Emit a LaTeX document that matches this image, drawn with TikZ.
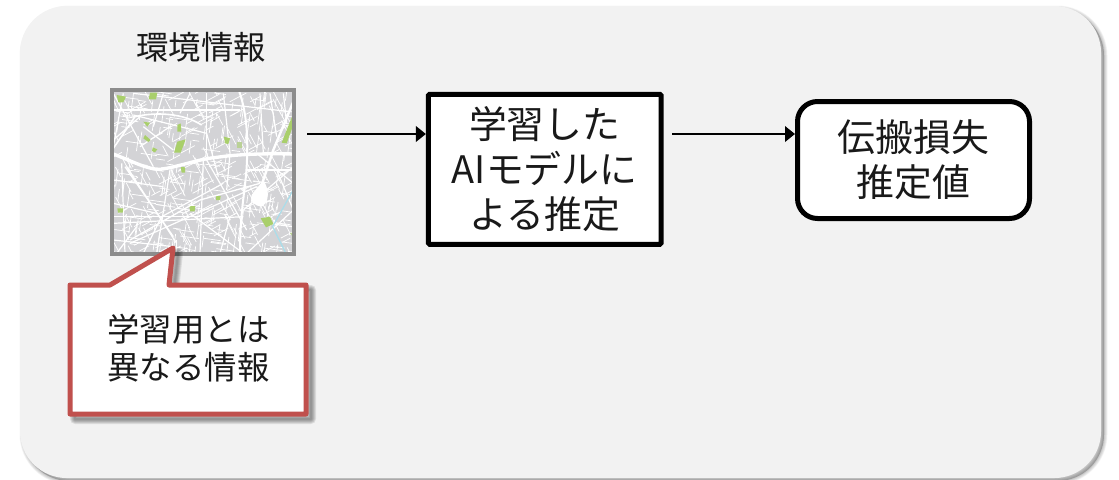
\documentclass[tikz,border=0pt]{standalone}
\usepackage{fontspec}
\setmainfont{Noto Sans CJK JP}
\usetikzlibrary{arrows.meta}
\definecolor{panelbg}{HTML}{F2F2F2}
\definecolor{calloutred}{HTML}{C0504D}
\definecolor{mapgray}{HTML}{D3D3D6}
\definecolor{mapgreen}{HTML}{A9CF6B}
\definecolor{mapborder}{HTML}{8C8C8C}
\definecolor{mapriver}{HTML}{A9DDEA}
\tikzset{
  bigtext/.style={font=\fontsize{28.4}{34}\selectfont,align=center,text=black!90},
  smalltext/.style={font=\fontsize{24.3}{28.5}\selectfont,align=center,text=black!90},
  squarebox/.style={draw=black,fill=white,line width=3.75pt,rounded corners=1pt,inner sep=0pt,bigtext},
  roundbox/.style={draw=black,fill=white,line width=3.75pt,rounded corners=15pt,inner sep=0pt,bigtext},
  flow/.style={draw=black,line width=1.9pt,-{Triangle[length=7.5pt,width=11.5pt]}},
  majorroad/.style={draw=white,line width=2.5pt,line join=round},
  midroad/.style={draw=white,line width=0.9pt},
  minorroad/.style={draw=white,line width=0.55pt},
  park/.style={fill=mapgreen},
  faintpark/.style={fill=mapgreen!60!mapgray},
}
\begin{document}
\begin{tikzpicture}[x=0.75pt,y=-0.75pt]
\useasboundingbox (0,0) rectangle (1119,479);
% panel shadow
\foreach \w in {7,6,5,4,3,2,1}{
  \path[draw=black,fill=black,draw opacity=0.035,fill opacity=0.035,line width=\w*0.75pt,rounded corners=35pt]
    (23,9) rectangle (1104,481);
}
\path[fill=panelbg,rounded corners=35pt] (20,6) rectangle (1101,478);
% map
\node[minimum width=136.5pt,minimum height=123pt,inner sep=0pt,outer sep=0pt] (map) at (203,172) {};
\begin{scope}
\clip (map.north west) rectangle (map.south east);
\fill[mapgray] (map.north west) rectangle (map.south east);
\begin{scope}[shift={(90,70)},x=0.25pt,y=-0.25pt]
\pgfmathsetseed{4711}
\foreach \i in {1,...,540}{
  \pgfmathsetmacro{\rx}{60+rnd*555}
  \pgfmathsetmacro{\ry}{55+rnd*500}
  \pgfmathsetmacro{\rl}{20+rnd*40}
  \pgfmathtruncatemacro{\rk}{int(rnd*4)}
  \pgfmathsetmacro{\ra}{\rk==0 ? 8 : (\rk==1 ? 98 : (\rk==2 ? 62 : -28))}
  \draw[minorroad] (\rx,\ry) -- ++(\ra:\rl);
}
\foreach \a/\b/\c/\d in {
 70/70/190/290, 70/210/150/140, 130/135/350/190, 350/190/385/320, 100/70/70/230,
 220/70/190/170, 300/70/270/130, 350/70/350/250, 400/70/420/250, 510/70/520/250,
 70/120/450/120, 130/70/600/125, 160/170/250/240, 150/230/240/170,
 95/280/105/550, 110/290/260/520, 240/300/200/550, 340/270/330/550, 350/270/470/480,
 420/250/410/360, 70/330/220/350, 70/400/200/430, 70/460/460/440, 70/510/250/530,
 120/520/500/350, 215/440/400/340, 260/510/260/550, 300/430/460/550, 420/440/390/550,
 500/250/610/340, 610/290/460/420, 610/420/470/550, 530/460/610/470, 560/300/610/420,
 80/550/140/470, 160/550/215/440, 470/300/610/300, 540/70/560/200, 580/70/590/160}{
  \draw[midroad] (\a,\b) -- (\c,\d);
}
% parks
\fill[park] (80,75) -- (108,80) -- (100,97) -- (85,97) -- cycle;
\fill[park] (180,68) -- (202,68) -- (198,88) -- (176,88) -- cycle;
\fill[park] (610,130) -- (610,165) -- (590,220) -- (575,218) -- cycle;
\fill[park] (262,215) -- (287,208) -- (272,248) -- (252,248) -- cycle;
\fill[park] (262,165) -- (272,160) -- (274,185) -- (262,185) -- cycle;
\fill[park] (402,200) -- (420,205) -- (415,222) -- (405,220) -- cycle;
\fill[park] (165,195) -- (182,210) -- (175,216) -- (160,205) -- cycle;
\fill[park] (188,232) -- (202,238) -- (195,247) -- (186,243) -- cycle;
\fill[park] (272,290) -- (285,292) -- (285,308) -- (275,308) -- cycle;
\fill[park] (160,155) -- (180,158) -- (172,170) -- cycle;
\fill[park] (298,408) -- (316,408) -- (314,424) -- (300,424) -- cycle;
\fill[park] (378,378) -- (392,378) -- (390,390) -- (378,390) -- cycle;
\fill[park] (82,415) -- (100,415) -- (98,428) -- (84,428) -- cycle;
\fill[park] (512,445) -- (540,440) -- (550,462) -- (528,472) -- cycle;
\fill[faintpark] (440,215) -- (455,215) -- (455,235) -- (440,235) -- cycle;
\fill[faintpark] (600,490) -- (612,485) -- (612,505) -- cycle;
% major roads
\draw[majorroad] (65,250) .. controls (130,275) and (170,298) .. (210,298) .. controls (270,290) and (320,268) .. (380,262) .. controls (450,252) and (530,250) .. (615,252);
\draw[majorroad,line width=1.5pt] (448,65) .. controls (470,130) and (475,200) .. (470,290) .. controls (465,370) and (450,420) .. (450,555);
\draw[majorroad,line width=1.8pt] (612,90) -- (550,240) -- (515,345);
\draw[majorroad,line width=1.2pt] (70,235) -- (135,140) .. controls (200,125) and (280,130) .. (335,165);
\draw[majorroad,line width=1pt] (120,510) -- (330,390) -- (510,340);
\draw[majorroad,line width=1pt] (105,290) -- (250,500);
\draw[majorroad,line width=1pt] (70,440) -- (330,440);
\fill[white] (520,330) .. controls (540,360) and (535,400) .. (515,410) .. controls (495,408) and (478,395) .. (485,375) .. controls (495,360) and (510,345) .. cycle;
% river
\draw[mapriver,line width=0.9pt] (615,350) -- (548,470) -- (590,555);
\end{scope}
\end{scope}
\draw[mapborder,line width=2.3pt] (map.north west) rectangle (map.south east);
% label
\node[smalltext] (title) at (201,47) {環境情報};
% callout
\coordinate (tail) at (173,248);
\foreach \w in {10,8,6,4,2}{
  \draw[black,opacity=0.09,line width=\w*0.75pt,line join=round,shift={(5,5)}]
    (70,285) -- (110,285) -- (173,248) -- (169,285) -- (306,285) -- (306,414) -- (70,414) -- cycle;
}
\filldraw[draw=calloutred,fill=white,line width=3.75pt,line join=round]
    (70,285) -- (110,285) -- (tail) -- (169,285) -- (306,285) -- (306,414) -- (70,414) -- cycle;
\node[smalltext,inner sep=0pt] (note) at (188.5,348) {学習用とは\\異なる情報};
% boxes
\node[squarebox,minimum width=174.5pt,minimum height=112.5pt] (model) at (544.75,169.25) {学習した\\AIモデルに\\よる推定};
\node[roundbox,minimum width=174pt,minimum height=87.75pt] (result) at (913.5,160) {伝搬損失\\推定値};
% connectors
\coordinate (mapout) at (307,134);
\coordinate (modelout) at (672,134);
\draw[flow] (mapout) -- (mapout -| model.west);
\draw[flow] (modelout) -- (modelout -| result.west);
\end{tikzpicture}
\end{document}
